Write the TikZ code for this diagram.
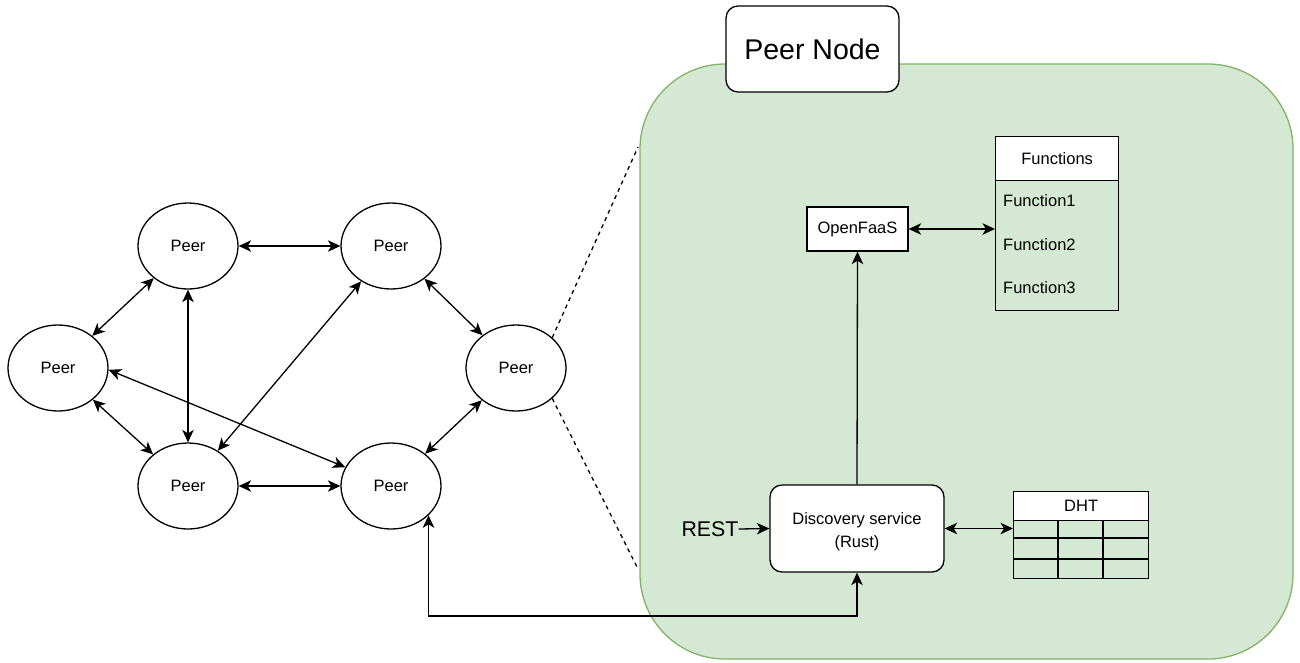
\documentclass[tikz,border=0pt]{standalone}
\usepackage{fontspec}
\setmainfont{Liberation Sans}
\usetikzlibrary{arrows.meta,shapes.geometric,calc}
\definecolor{nodefill}{HTML}{D5E8D4}
\definecolor{nodeline}{HTML}{82B366}
\tikzset{
  lnk/.style={line width=1.3pt},
  arr/.style={lnk,-{Stealth[length=12.5pt,width=11.5pt,inset=3.5pt]}},
  biarr/.style={lnk,{Stealth[length=12.5pt,width=11.5pt,inset=3.5pt]}-{Stealth[length=12.5pt,width=11.5pt,inset=3.5pt]}},
  peer/.style={ellipse,draw,line width=1.3pt,minimum width=100pt,minimum height=86pt,inner sep=0pt,font=\fontsize{16.5}{19}\selectfont},
  box/.style={draw,line width=1.3pt,inner sep=0pt,font=\fontsize{16.5}{19}\selectfont},
  item/.style={anchor=west,inner sep=0pt,font=\fontsize{16.5}{19}\selectfont},
  zoomline/.style={line width=1.3pt,dash pattern=on 4pt off 4pt},
}
\begin{document}
\begin{tikzpicture}[x=1pt,y=-1pt]
\useasboundingbox (0,0) rectangle (1300,662);

% peer-to-peer network
\node[peer] (p1) at (188,246) {Peer};
\node[peer] (p2) at (391,246) {Peer};
\node[peer] (p3) at (58,368) {Peer};
\node[peer] (p4) at (188,486) {Peer};
\node[peer] (p5) at (391,486) {Peer};
\node[peer] (p6) at (516,368) {Peer};

\draw[biarr] (p1) -- (p2);
\draw[biarr] (p4) -- (p5);
\draw[biarr] (p1) -- (p3);
\draw[biarr] (p3) -- (p4);
\draw[biarr] (p1) -- (p4);
\draw[biarr] (p2) -- (p4);
\draw[biarr] (p3.-2) -- (p5);
\draw[biarr] (p2) -- (p6);
\draw[biarr] (p6) -- (p5);

% expanded peer node
\draw[fill=nodefill,draw=nodeline,line width=1.3pt,rounded corners=85pt] (640,64) rectangle (1293,659);
\node[box,fill=white,rounded corners=12pt,minimum width=173pt,minimum height=86pt,font=\fontsize{28.5}{32}\selectfont] (title) at (812.5,49) {Peer Node};

\coordinate (zoomtop) at (638,147);
\coordinate (zoombot) at (637,567);
\draw[zoomline] (p6.40) -- (zoomtop);
\draw[zoomline] (p6.-40) -- (zoombot);

% services inside the node
\node[box,fill=white,minimum width=101pt,minimum height=44pt] (openfaas) at (857.5,229) {OpenFaaS};

\node[box,fill=white,anchor=north west,minimum width=123pt,minimum height=44pt] (fnhead) at (995,136) {Functions};
\node[box,anchor=north west,minimum width=123pt,minimum height=130pt] (fnbody) at (995,180) {};
\node[item] (fn1) at (1003,201) {Function1};
\node[item] (fn2) at (1003,245) {Function2};
\node[item] (fn3) at (1003,288) {Function3};

\node[box,fill=white,rounded corners=12pt,minimum width=174pt,minimum height=87pt] (disc) at (857,528.5) {};
\node[align=center,inner sep=0pt,font=\fontsize{16.5}{22.5}\selectfont] (disctext) at ($(disc.center)+(0,3)$) {Discovery service\\(Rust)};

\node[inner sep=0pt,font=\fontsize{21.3}{24}\selectfont] (rest) at (710,529) {REST};

\node[box,fill=white,anchor=north west,minimum width=135pt,minimum height=29pt] (dhthead) at (1013,491) {DHT};
\node[box,anchor=north west,minimum width=135pt,minimum height=58pt] (dhtbody) at (1013,520) {};
\draw[line width=1.3pt] (1013,538) -- (1148,538) (1013,559) -- (1148,559)
  (1058,520) -- (1058,578) (1103,520) -- (1103,578);

% connections
\draw[biarr] (openfaas.east) -- (openfaas.east -| fnbody.west);
\draw[arr] (disc.north) -- (openfaas.south);
\draw[arr] (rest.east) -- (disc.west);
\draw[biarr] (disc.east) -- (disc.east -| dhtbody.west);
\coordinate (busy) at (0,616);
\draw[biarr] (p5.-38) |- (disc.south |- busy) -- (disc.south);
\end{tikzpicture}
\end{document}
